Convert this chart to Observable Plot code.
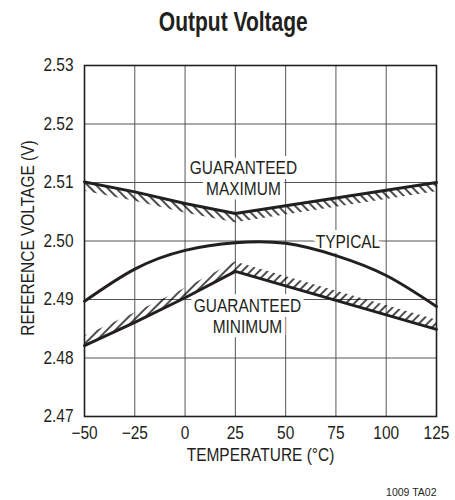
<!DOCTYPE html>
<html>
<head>
<meta charset="utf-8">
<script src="https://cdn.jsdelivr.net/npm/d3@7"></script>
<script src="https://cdn.jsdelivr.net/npm/@observablehq/plot@0.6"></script>
<style>
  html, body { margin: 0; padding: 0; background: #fff; }
  #chart { position: relative; width: 455px; height: 500px; }
  #title {
    position: absolute; left: 0; top: 6px; width: 467px; text-align: center;
    font-family: "Liberation Sans", Arial, sans-serif;
    font-weight: bold; font-size: 28px; line-height: 32px; color: #231f20;
  }
  #title span { display: inline-block; transform: scaleX(0.75); transform-origin: center; }
  svg { display: block; }
</style>
</head>
<body>
<div id="chart">
  <div id="title"><span>Output Voltage</span></div>
</div>
<script>
// ---- data ----
const xTicks = [-50, -25, 0, 25, 50, 75, 100, 125];
const yTicks = [2.47, 2.48, 2.49, 2.50, 2.51, 2.52, 2.53];

const typicalTemps = [-50, -25, 0, 25, 50, 75, 100, 125];
const typicalVolts = [2.4897, 2.4952, 2.4984, 2.4997, 2.4996, 2.4975, 2.4941, 2.4888];

const maxTemps = [-50, -25, 0, 25, 125];
const maxVolts = [2.5101, 2.5084, 2.5064, 2.5047, 2.5100];

const minTemps = [-50, -25, 0, 25, 125];
const minVolts = [2.4821, 2.4861, 2.4903, 2.4948, 2.4849];

const hatchDepth = 0.0016;

const labelText = ["GUARANTEED\nMAXIMUM", "GUARANTEED\nMINIMUM", "TYPICAL"];
const labelTemp = [29, 31, 81];
const labelVolt = [2.5108, 2.4872, 2.5000];

const xLabel = "TEMPERATURE (°C)";
const yLabel = "REFERENCE VOLTAGE (V)";
const caption = "1009 TA02";

// ---- tables ----
const typical = typicalTemps.map((t, i) => ({t, v: typicalVolts[i]}));
const maxLine = maxTemps.map((t, i) => ({t, v: maxVolts[i]}));
const minLine = minTemps.map((t, i) => ({t, v: minVolts[i]}));
const labels = labelText.map((s, i) => ({s, t: labelTemp[i], v: labelVolt[i]}));

const ink = "#231f20";
const font = '"Liberation Sans", Arial, sans-serif';
const narrow = 0.86; // horizontal squeeze to mimic a condensed face

const svg = Plot.plot({
  width: 455,
  height: 500,
  marginTop: 65,
  marginBottom: 84,
  marginLeft: 84,
  marginRight: 19,
  style: {fontFamily: font, fontSize: "18px", color: ink, background: "transparent", overflow: "visible"},
  x: {domain: [-50, 125], ticks: xTicks, tickSize: 0, tickPadding: 10, label: null},
  y: {domain: [2.47, 2.53], ticks: yTicks, tickSize: 0, tickPadding: 11, tickFormat: d3.format(".2f"), label: null},
  marks: [
    Plot.ruleX(xTicks, {x: d => d, stroke: "#555", strokeWidth: 1}),
    Plot.ruleY(yTicks, {y: d => d, stroke: "#555", strokeWidth: 1}),
    Plot.text(labels, {
      x: "t", y: "v", text: "s", fontSize: 18, lineHeight: 1.17, fill: ink,
      stroke: "white", strokeWidth: 10, strokeLinejoin: "round"
    }),
    Plot.areaY(maxLine, {x: "t", y1: "v", y2: d => d.v - hatchDepth, fill: "url(#hatchDown)"}),
    Plot.areaY(minLine, {x: "t", y1: "v", y2: d => d.v + hatchDepth, fill: "url(#hatchUp)"}),
    Plot.line(maxLine, {x: "t", y: "v", stroke: ink, strokeWidth: 3}),
    Plot.line(minLine, {x: "t", y: "v", stroke: ink, strokeWidth: 3}),
    Plot.line(typical, {x: "t", y: "v", stroke: ink, strokeWidth: 3, curve: "natural"}),
    Plot.frame({stroke: ink, strokeWidth: 1.6}),
    Plot.text([yLabel], {frameAnchor: "left", textAnchor: "middle", text: d => d, rotate: -90, dx: -56, dy: -3, fontSize: 18, fill: ink}),
    Plot.text([xLabel], {frameAnchor: "bottom", textAnchor: "middle", text: d => d, dy: 44, fontSize: 18, fill: ink}),
    Plot.text([caption], {frameAnchor: "bottom-right", text: d => d, textAnchor: "end", dy: 79, fontSize: 10.5, fill: ink})
  ]
});

// hatch patterns
const defs = d3.select(svg).insert("defs", ":first-child");
const pDown = defs.append("pattern").attr("id", "hatchDown").attr("patternUnits", "userSpaceOnUse")
  .attr("width", 6).attr("height", 6).attr("patternTransform", "rotate(-45)");
pDown.append("line").attr("x1", 3).attr("y1", 0).attr("x2", 3).attr("y2", 6).attr("stroke", "#000").attr("stroke-width", 1.4);
const pUp = defs.append("pattern").attr("id", "hatchUp").attr("patternUnits", "userSpaceOnUse")
  .attr("width", 6).attr("height", 6).attr("patternTransform", "rotate(45)");
pUp.append("line").attr("x1", 3).attr("y1", 0).attr("x2", 3).attr("y2", 6).attr("stroke", "#000").attr("stroke-width", 1.4);

// condense text horizontally (no condensed font installed)
svg.querySelectorAll("text").forEach(t => {
  if (t.textContent === caption) return;
  const tr = t.getAttribute("transform");
  if (tr) t.setAttribute("transform", tr + ` scale(${narrow},1)`);
  else {
    const x = +t.getAttribute("x") || 0;
    t.setAttribute("transform", `translate(${x},0) scale(${narrow},1) translate(${-x},0)`);
  }
});

document.getElementById("chart").appendChild(svg);
</script>
</body>
</html>
